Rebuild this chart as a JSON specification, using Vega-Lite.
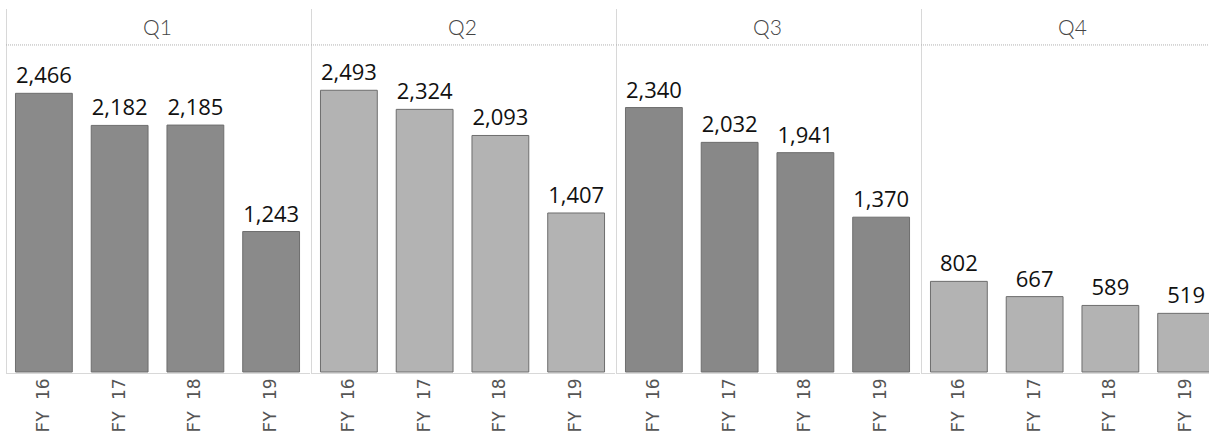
{
  "$schema": "https://vega.github.io/schema/vega-lite/v6.json",
  "padding": {"left": 5, "top": 8, "right": 0, "bottom": 0},
  "data": {
    "values": [
      {"Quarter": "Q1", "FY": "FY 16", "Sales": 2466},
      {"Quarter": "Q1", "FY": "FY 17", "Sales": 2182},
      {"Quarter": "Q1", "FY": "FY 18", "Sales": 2185},
      {"Quarter": "Q1", "FY": "FY 19", "Sales": 1243},
      {"Quarter": "Q2", "FY": "FY 16", "Sales": 2493},
      {"Quarter": "Q2", "FY": "FY 17", "Sales": 2324},
      {"Quarter": "Q2", "FY": "FY 18", "Sales": 2093},
      {"Quarter": "Q2", "FY": "FY 19", "Sales": 1407},
      {"Quarter": "Q3", "FY": "FY 16", "Sales": 2340},
      {"Quarter": "Q3", "FY": "FY 17", "Sales": 2032},
      {"Quarter": "Q3", "FY": "FY 18", "Sales": 1941},
      {"Quarter": "Q3", "FY": "FY 19", "Sales": 1370},
      {"Quarter": "Q4", "FY": "FY 16", "Sales": 802},
      {"Quarter": "Q4", "FY": "FY 17", "Sales": 667},
      {"Quarter": "Q4", "FY": "FY 18", "Sales": 589},
      {"Quarter": "Q4", "FY": "FY 19", "Sales": 519}
    ]
  },
  "facet": {
    "column": {"field": "Quarter", "type": "nominal", "header": {"labels": false, "title": null}}
  },
  "spacing": 0,
  "spec": {
    "width": 303,
    "height": 364,
    "layer": [
      {
        "transform": [{"filter": "datum.FY == 'FY 16'"}],
        "mark": {"type": "rule", "color": "#b0b0b0", "strokeDash": [1, 1], "strokeWidth": 1},
        "encoding": {"y": {"datum": 2894, "type": "quantitative"}}
      },
      {
        "transform": [{"filter": "datum.FY == 'FY 16'"}],
        "mark": {"type": "text", "font": "Lato", "fontWeight": 300, "fontSize": 21, "color": "#444444", "baseline": "middle"},
        "encoding": {
          "y": {"datum": 3031, "type": "quantitative"},
          "text": {"field": "Quarter", "type": "nominal"}
        }
      },
      {
        "mark": {"type": "bar", "stroke": "#6e6e6e", "strokeWidth": 1},
        "encoding": {
          "x": {
            "field": "FY", "type": "nominal",
            "scale": {"paddingInner": 0.25, "paddingOuter": 0.125},
            "axis": {
              "title": null, "labelAngle": -90, "ticks": false,
              "labelFont": "DejaVu Sans Mono", "labelFontSize": 18, "labelColor": "#555555",
              "labelPadding": 5, "domainColor": "#b0b0b0", "domainDash": [1, 1]
            }
          },
          "y": {
            "field": "Sales", "type": "quantitative",
            "scale": {"domain": [0, 3221], "nice": false}
          },
          "color": {
            "field": "Quarter", "type": "nominal", "legend": null,
            "scale": {"domain": ["Q1", "Q2", "Q3", "Q4"], "range": ["#8a8a8a", "#b3b3b3", "#888888", "#b3b3b3"]}
          }
        }
      },
      {
        "mark": {"type": "text", "font": "Open Sans", "fontSize": 22, "color": "#111111", "baseline": "alphabetic", "dy": -10},
        "encoding": {
          "x": {"field": "FY", "type": "nominal"},
          "y": {"field": "Sales", "type": "quantitative"},
          "text": {"field": "Sales", "type": "quantitative", "format": ","}
        }
      }
    ]
  },
  "resolve": {"axis": {"y": "independent"}},
  "config": {
    "view": {"stroke": null},
    "axisY": {"title": null, "labels": false, "ticks": false, "grid": false, "domain": true, "domainColor": "#b0b0b0", "domainDash": [1, 1]},
    "axisX": {"grid": false}
  }
}
